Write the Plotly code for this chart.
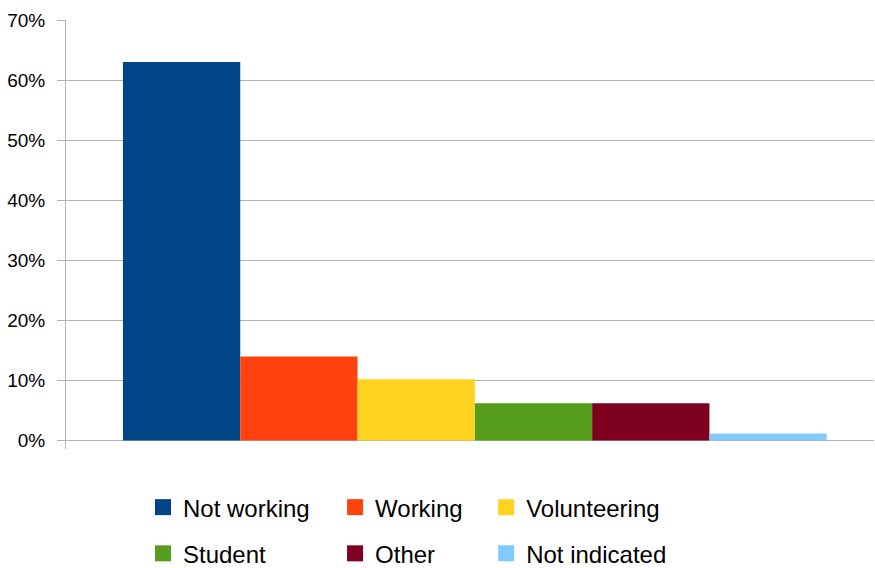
import plotly.graph_objects as go

categories = ["Employment status"]
series_names = ["Not working", "Working", "Volunteering", "Student", "Other", "Not indicated"]
series_values = [0.63, 0.14, 0.102, 0.062, 0.062, 0.012]
series_colors = ["#004586", "#ff420e", "#ffd320", "#579d1c", "#7e0021", "#83caff"]
tick_values = [0, 0.1, 0.2, 0.3, 0.4, 0.5, 0.6, 0.7]
tick_labels = ["0%", "10%", "20%", "30%", "40%", "50%", "60%", "70%"]

# legend column each series appears in (two rows, three columns)
legend_ids = ["legend", "legend2", "legend3", "legend", "legend2", "legend3"]

FONT = "Liberation Sans, Arial, sans-serif"

fig = go.Figure()
for name, val, col, lg in zip(series_names, series_values, series_colors, legend_ids):
    fig.add_trace(go.Bar(
        x=categories, y=[val], name=name,
        marker=dict(color=col, line=dict(width=0)),
        legendgroup=name, showlegend=False,
    ))
    # legend entry with a larger square swatch, linked to the bar by legendgroup
    fig.add_trace(go.Scatter(
        x=[None], y=[None], name=name, mode="markers",
        marker=dict(symbol="square", size=19, color=col, line=dict(width=0)),
        legend=lg, legendgroup=name, showlegend=True, hoverinfo="skip",
    ))

legend_common = dict(
    orientation="v", xanchor="left", yanchor="top", y=-0.084,
    font=dict(family=FONT, size=24, color="#000000"),
    bgcolor="rgba(0,0,0,0)", tracegroupgap=12, borderwidth=0,
    itemsizing="trace",
)

fig.update_layout(
    width=875, height=568,
    margin=dict(l=66, r=1, t=20, b=119, autoexpand=False),
    paper_bgcolor="white", plot_bgcolor="white",
    barmode="group", bargap=0.129, bargroupgap=0,
    font=dict(family=FONT, size=19, color="#000000"),
    legend=dict(x=0.0953, **legend_common),
    legend2=dict(x=0.333, **legend_common),
    legend3=dict(x=0.52, **legend_common),
    xaxis=dict(
        type="category", range=[-0.506, 0.494],
        showticklabels=False, showgrid=False, showline=False,
        zeroline=False, ticks="",
    ),
    yaxis=dict(
        range=[-0.014, 0.7],
        tickmode="array", tickvals=tick_values, ticktext=tick_labels,
        showgrid=True, gridcolor="#b3b3b3", gridwidth=1,
        zeroline=True, zerolinecolor="#b3b3b3", zerolinewidth=1,
        showline=True, linecolor="#b3b3b3", linewidth=1,
        ticks="outside", ticklen=8, tickcolor="#b3b3b3", tickwidth=1,
        ticklabelstandoff=8,
        tickfont=dict(family=FONT, size=19, color="#000000"),
    ),
)

fig.write_html("out.html")
